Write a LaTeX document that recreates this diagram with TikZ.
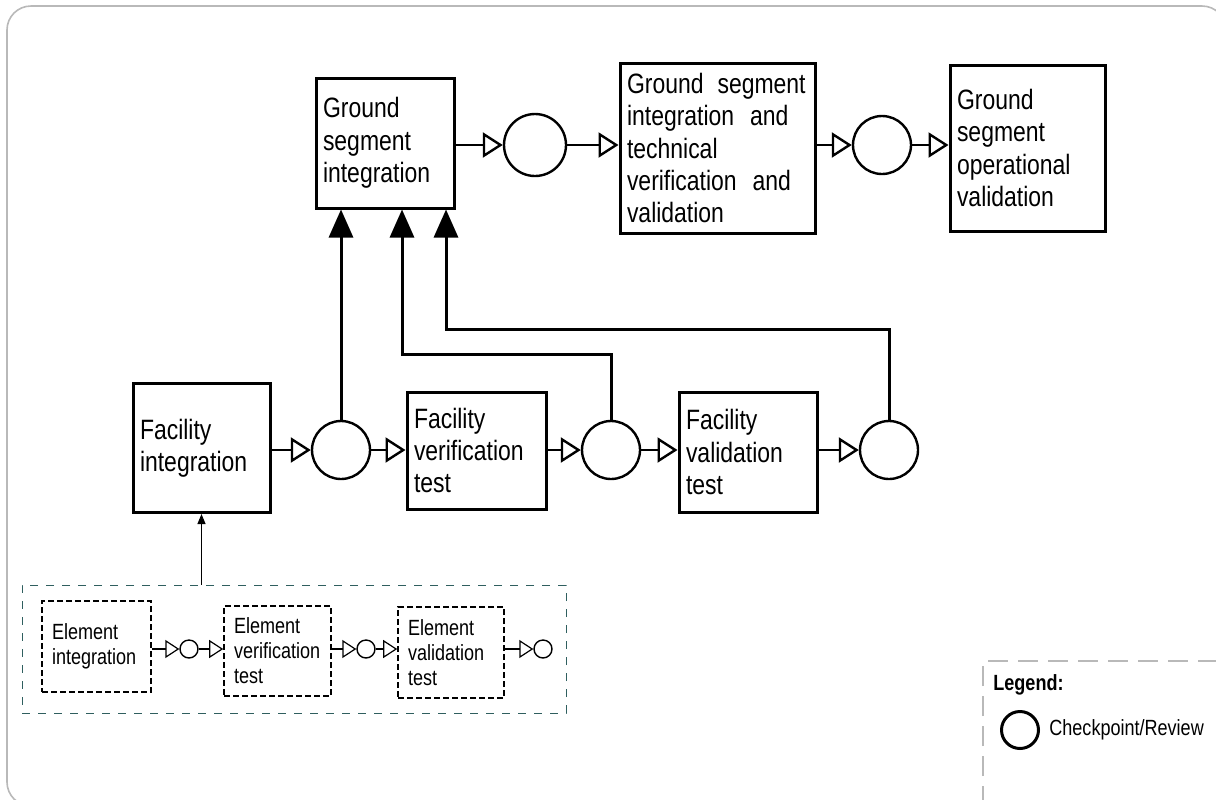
\documentclass[tikz,border=0pt]{standalone}
\usepackage{fontspec}
\setmainfont[FakeStretch=0.82]{Liberation Sans}
\usetikzlibrary{arrows.meta}
\definecolor{grpline}{HTML}{2F5F5F}
\tikzset{
  stage/.style={draw, line width=1.5pt, align=left, inner xsep=3.5pt, inner ysep=0pt,
    font=\fontsize{14}{16.2}\selectfont},
  review/.style={draw, circle, line width=1.2pt, inner sep=0pt},
  flow/.style={line width=1.3pt, -{Triangle[open, length=10pt, width=12.5pt, line width=1.2pt]}},
  feed/.style={line width=1.5pt, -{Triangle[length=14pt, width=12pt]}},
  elem/.style={draw, line width=.8pt, dash pattern=on 3pt off 1.5pt, align=left,
    inner xsep=5pt, inner ysep=0pt, font=\fontsize{11}{12.5}\selectfont},
  minireview/.style={draw, circle, line width=.7pt, inner sep=0pt, minimum size=9pt},
  miniflow/.style={line width=.8pt, -{Triangle[open, length=7pt, width=9pt, line width=.6pt]}},
  grpbox/.style={draw=grpline, line width=.5pt, dash pattern=on 4pt off 4pt},
}
\begin{document}
\begin{tikzpicture}[x=.5pt, y=-.5pt]
\useasboundingbox (0,0) rectangle (1216,799);
\draw[gray!55, line width=.8pt, rounded corners=12pt] (7,6) rectangle (1226,806);

% ground segment row
\node[stage, text width=62pt, minimum height=65pt] (gsi) at (385,143) {Ground\\segment\\integration};
\node[review, minimum size=31pt] (r1) at (535,145) {};
\node[stage, text width=90.5pt, minimum height=85pt] (gstv) at (717.5,148)
  {Ground\hspace{7pt}segment\\integration\hspace{8pt}and\\technical\\verification\hspace{8pt}and\\validation};
\node[review, minimum size=29pt] (r2) at (882,145) {};
\node[stage, text width=70.5pt, minimum height=83pt] (gsov) at (1027.5,148)
  {Ground\\segment\\operational\\validation};

\draw[flow] (gsi.east |- r1) -- (r1);
\draw[flow] (r1) -- (r1 -| gstv.west);
\draw[flow] (gstv.east |- r2) -- (r2);
\draw[flow] (r2) -- (r2 -| gsov.west);

% facility row
\node[stage, text width=61.5pt, minimum height=64.5pt] (fi) at (201.5,448) {Facility\\integration};
\node[review, minimum size=29pt] (ra) at (341,450) {};
\node[stage, text width=62.5pt, minimum height=58.5pt] (fvt) at (476.5,450.5) {Facility\\verification\\test};
\node[review, minimum size=29pt] (rb) at (611,450) {};
\node[stage, text width=62pt, minimum height=60pt] (fvat) at (748,452) {Facility\\validation\\test};
\node[review, minimum size=29pt] (rc) at (889,450) {};

\draw[flow] (fi.east |- ra) -- (ra);
\draw[flow] (ra) -- (ra -| fvt.west);
\draw[flow] (fvt.east |- rb) -- (rb);
\draw[flow] (rb) -- (rb -| fvat.west);
\draw[flow] (fvat.east |- rc) -- (rc);

\coordinate (kb) at (402,354);
\coordinate (kc) at (446,329);
\draw[feed] (ra) -- (ra |- gsi.south);
\draw[feed] (rb.north) |- (kb) -- (kb |- gsi.south);
\draw[feed] (rc.north) |- (kc) -- (kc |- gsi.south);

% element row
\node[grpbox, minimum width=272pt, minimum height=64pt] (grp) at (294,649) {};
\draw[line width=.5pt, -{Triangle[length=5pt, width=4pt]}] (fi.south |- grp.north) -- (fi.south);

\node[elem, text width=44.5pt, minimum height=45.5pt] (ei) at (96.5,646.5) {Element\\integration};
\node[minireview] (ea) at (189,649) {};
\node[elem, text width=43.5pt, minimum height=45pt] (evt) at (277.5,651) {Element\\verification\\test};
\node[minireview] (eb) at (366,649) {};
\node[elem, text width=43pt, minimum height=45.5pt] (evat) at (451,652.5) {Element\\validation\\test};
\node[minireview] (ec) at (543,649) {};

\foreach \a/\b in {ei/ea, evt/eb, evat/ec}
  \draw[miniflow] (\a.east |- \b) -- (\b);
\foreach \a/\b in {ea/evt, eb/evat}
  \draw[miniflow] (\a) -- (\a -| \b.west);

% legend
\draw[gray!55, line width=.8pt, dash pattern=on 10pt off 5pt] (983,806) |- (1226,661);
\node[font=\bfseries\fontsize{11}{13}\selectfont, anchor=west, inner sep=0pt] (leg) at (993,685) {Legend:};
\node[review, line width=1.5pt, minimum size=18.5pt] (lr) at (1020,730) {};
\node[font=\fontsize{11}{13}\selectfont, anchor=west, inner sep=0pt] (lt) at (1049,730) {Checkpoint/Review};
\end{tikzpicture}
\end{document}
